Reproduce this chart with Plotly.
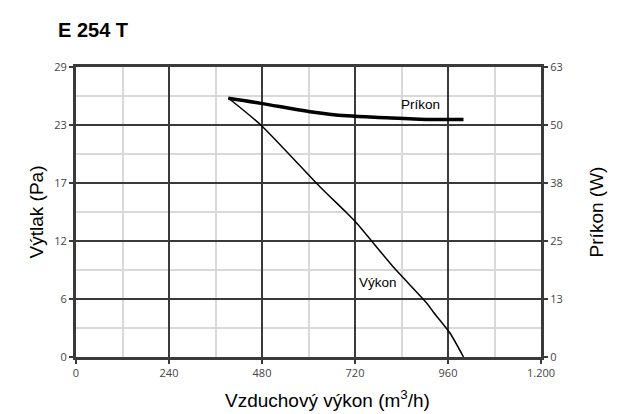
import plotly.graph_objects as go

# Data
vykon_x = [393, 477, 630, 699, 724, 819, 905, 922, 965, 1000]
vykon_pa = [25.9, 23.2, 17.0, 14.4, 13.4, 9.0, 5.4, 4.5, 2.4, 0.0]

prikon_x = [393, 477, 604, 699, 801, 922, 1000]
prikon_w = [56.2, 55.1, 53.3, 52.4, 52.0, 51.6, 51.6]

x_ticks = [0, 240, 480, 720, 960, 1200]
x_ticktext = ["0", "240", "480", "720", "960", "1.200"]
y_ticks = [0, 5.8, 11.6, 17.4, 23.2, 29]
y_ticktext = ["0", "6", "12", "17", "23", "29"]
y2_ticks = [0, 12.6, 25.2, 37.8, 50.4, 63]
y2_ticktext = ["0", "13", "25", "38", "50", "63"]

title_text = "E 254 T"
x_title = "Vzduchový výkon (m<sup>3</sup>/h)"
y_title = "Výtlak (Pa)"
y2_title = "Príkon (W)"

MAJOR = "#3a3a3a"
MINOR = "#d9d9d9"
TICKFONT = dict(family="Open Sans", size=11, color="#444444")
TEXTFONT = "Liberation Sans"

fig = go.Figure()
fig.add_trace(go.Scatter(x=vykon_x, y=vykon_pa, mode="lines",
                         line=dict(color="black", width=1.5, shape="spline", smoothing=0.6),
                         showlegend=False, name="Výkon"))
fig.add_trace(go.Scatter(x=prikon_x, y=prikon_w, mode="lines", yaxis="y2",
                         line=dict(color="black", width=3.5, shape="spline"),
                         showlegend=False, name="Príkon"))

fig.add_annotation(x=888, y=25.3, text="Príkon", showarrow=False,
                   font=dict(family=TEXTFONT, size=13.5, color="black"))
fig.add_annotation(x=780, y=7.5, text="Výkon", showarrow=False,
                   font=dict(family=TEXTFONT, size=13.5, color="black"))
# x-axis title (slightly right of centre, as in the reference)
fig.add_annotation(x=0.541, y=-0.145, xref="paper", yref="paper", text=x_title,
                   showarrow=False, xanchor="center", yanchor="middle",
                   font=dict(family=TEXTFONT, size=19, color="black"))

fig.update_layout(
    width=627, height=414,
    margin=dict(l=68, r=94, t=59, b=65),
    paper_bgcolor="white", plot_bgcolor="white",
    title=dict(text=f"<b>{title_text}</b>", x=50 / 627, xanchor="left",
               y=1 - 22 / 414, yanchor="middle",
               font=dict(family=TEXTFONT, size=20, color="black")),
    xaxis=dict(range=[0, 1200], tickmode="array", tickvals=x_ticks, ticktext=x_ticktext,
               showgrid=True, gridcolor=MAJOR, gridwidth=2,
               minor=dict(tickmode="array", tickvals=[120, 360, 600, 840, 1080],
                          showgrid=True, gridcolor=MINOR, gridwidth=2, ticks=""),
               showline=True, linecolor=MAJOR, linewidth=3, mirror=True,
               ticks="outside", ticklen=4, tickwidth=2, tickcolor=MAJOR,
               tickfont=TICKFONT, zeroline=False),
    yaxis=dict(range=[0, 29], tickmode="array", tickvals=y_ticks, ticktext=y_ticktext,
               showgrid=True, gridcolor=MAJOR, gridwidth=2,
               minor=dict(tickmode="array", tickvals=[2.9, 8.7, 14.5, 20.3, 26.1],
                          showgrid=True, gridcolor=MINOR, gridwidth=2, ticks=""),
               showline=True, linecolor=MAJOR, linewidth=3,
               ticks="outside", ticklen=4, tickwidth=2, tickcolor=MAJOR,
               tickfont=TICKFONT, zeroline=False,
               title=dict(text=y_title, font=dict(family=TEXTFONT, size=19, color="black"),
                          standoff=6)),
    yaxis2=dict(range=[0, 63], overlaying="y", side="right", tickmode="array",
                tickvals=y2_ticks, ticktext=y2_ticktext, showgrid=False,
                showline=True, linecolor=MAJOR, linewidth=3,
                ticks="outside", ticklen=4, tickwidth=2, tickcolor=MAJOR,
                tickfont=TICKFONT, zeroline=False,
                title=dict(text=y2_title, font=dict(family=TEXTFONT, size=19, color="black"),
                           standoff=28)),
)

fig.write_html("out.html")
